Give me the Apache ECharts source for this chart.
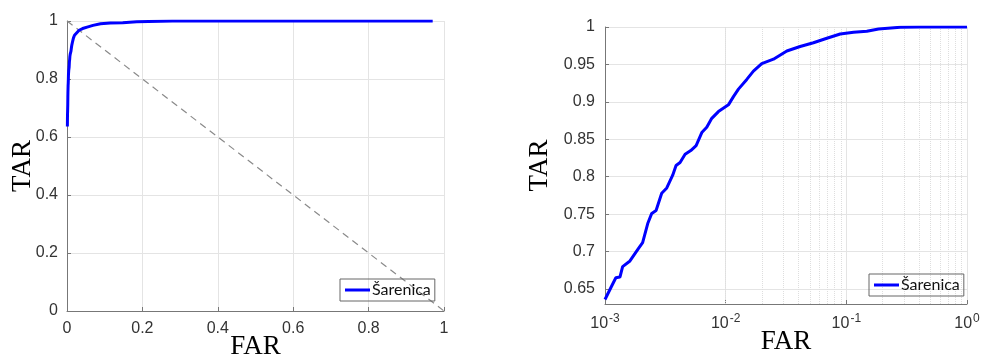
<!DOCTYPE html>
<html>
<head>
<meta charset="utf-8">
<script src="https://cdn.jsdelivr.net/npm/echarts@6/dist/echarts.min.js"></script>
<style>
html,body{margin:0;padding:0;background:#fff;}
#c{width:983px;height:359px;}
</style>
</head>
<body>
<div id="c"></div>
<script>
// ROC data (FAR, TAR)
const far = [0.001, 0.00112, 0.00123, 0.00133, 0.0014, 0.00161, 0.00189, 0.00205, 0.00226, 0.00244, 0.00265, 0.00295, 0.00325, 0.00364, 0.00388, 0.00419, 0.00461, 0.00514, 0.00569, 0.00634, 0.00697, 0.00767, 0.00871, 0.01054, 0.0116, 0.01276, 0.01496, 0.01698, 0.01991, 0.02489, 0.03213, 0.0414, 0.0534, 0.06897, 0.08894, 0.1148, 0.1479, 0.1849, 0.28, 0.41, 0.97, 1.0];
const tar = [0.636, 0.652, 0.665, 0.666, 0.680, 0.6875, 0.704, 0.712, 0.7375, 0.751, 0.755, 0.778, 0.785, 0.802, 0.815, 0.819, 0.830, 0.835, 0.8415, 0.859, 0.866, 0.878, 0.887, 0.896, 0.907, 0.917, 0.930, 0.941, 0.951, 0.957, 0.968, 0.974, 0.979, 0.985, 0.9906, 0.9929, 0.9942, 0.9973, 0.9996, 1.0, 1.0, 1.0];
const seriesName = 'Šarenica';
const leftFarMax = 0.97;
const chanceLine = [[0, 1], [1, 0]];
const logMinorTicks = [2,3,4,5,6,7,8,9].map(m => m * 0.001)
  .concat([2,3,4,5,6,7,8,9].map(m => m * 0.01))
  .concat([2,3,4,5,6,7,8,9].map(m => m * 0.1));
const rightYTicks = [0.65, 0.7, 0.75, 0.8, 0.85, 0.9, 0.95, 1];

const pts = far.map((f, i) => [f, tar[i]]);
const leftPts = pts.filter(p => p[0] <= leftFarMax);

const labelFont = {fontFamily: 'Liberation Sans', fontSize: 16, color: '#333'};
const nameFont = {fontFamily: 'Liberation Serif', fontSize: 27, color: '#000'};
const axisLineStyle = {lineStyle: {color: '#777', width: 1}};
const gridLine = {show: true, lineStyle: {color: '#e4e4e4', width: 1}};
const legendBase = {
  data: [seriesName], orient: 'vertical',
  borderColor: '#666', borderWidth: 1, borderRadius: 0, padding: [3, 4, 3, 5],
  itemWidth: 25, itemHeight: 16, itemGap: 0,
  textStyle: {fontFamily: 'Lato', fontSize: 16, color: '#111', padding: [0, 0, 0, -3]},
  icon: 'path://M0,6 L25,6 L25,9 L0,9 Z',
  itemStyle: {color: '#0000ff'}
};

const chart = echarts.init(document.getElementById('c'), null, {renderer: 'canvas'});
chart.setOption({
  animation: false,
  backgroundColor: '#fff',
  grid: [
    {left: 67, top: 21, width: 377, height: 290, outerBoundsMode: 'none', containLabel: false},
    {left: 605, top: 27, right: 16, bottom: 55, outerBoundsMode: 'none', containLabel: false}
  ],
  legend: [
    Object.assign({left: 340, top: 279}, legendBase),
    Object.assign({left: 869, top: 274}, legendBase)
  ],
  xAxis: [
    {
      type: 'value', gridIndex: 0, min: 0, max: 1, interval: 0.2,
      name: 'FAR', nameLocation: 'middle', nameGap: 22, nameMoveOverlap: false, nameTextStyle: nameFont,
      axisLine: axisLineStyle,
      axisTick: {show: true, inside: true, length: 4, lineStyle: {color: '#777'}},
      axisLabel: Object.assign({margin: 10}, labelFont),
      splitLine: gridLine
    },
    {
      type: 'log', logBase: 10, gridIndex: 1, min: 0.001, max: 1,
      name: 'FAR', nameLocation: 'middle', nameGap: 24, nameMoveOverlap: false, nameTextStyle: nameFont,
      axisLine: axisLineStyle,
      axisTick: {show: true, inside: true, length: 4, lineStyle: {color: '#777'}},
      axisLabel: {
        margin: 9,
        formatter: function (v) {
          const e = Math.round(Math.log10(v));
          return '{b|10}{s|' + e + '}';
        },
        rich: {
          b: {fontFamily: 'Liberation Sans', fontSize: 16, color: '#333'},
          s: {fontFamily: 'Liberation Sans', fontSize: 12, color: '#333', padding: [0, 0, 10, 1]}
        }
      },
      splitLine: gridLine
    }
  ],
  yAxis: [
    {
      type: 'value', gridIndex: 0, min: 0, max: 1, interval: 0.2,
      name: 'TAR', nameLocation: 'middle', nameGap: 31, nameMoveOverlap: false, nameTextStyle: nameFont,
      axisLine: axisLineStyle,
      axisTick: {show: true, inside: true, length: 4, lineStyle: {color: '#777'}},
      axisLabel: Object.assign({margin: 9}, labelFont),
      splitLine: gridLine
    },
    {
      type: 'value', gridIndex: 1, min: 0.63, max: 1, splitNumber: 7,
      name: 'TAR', nameLocation: 'middle', nameGap: 52, nameMoveOverlap: false, nameTextStyle: nameFont,
      axisLine: axisLineStyle,
      axisTick: {show: true, inside: true, length: 4, lineStyle: {color: '#777'}},
      axisLabel: Object.assign({margin: 10, showMinLabel: false,
        formatter: function (v) { return rightYTicks.some(t => Math.abs(t - v) < 1e-9) ? String(+v.toFixed(2)) : ''; }
      }, labelFont),
      splitLine: gridLine
    }
  ],
  series: [
    {
      name: 'chance', type: 'line', xAxisIndex: 0, yAxisIndex: 0,
      data: chanceLine, showSymbol: false, silent: true,
      lineStyle: {color: '#8a8a8a', width: 1.2, type: [7, 5]}, z: 2
    },
    {
      name: seriesName, type: 'line', xAxisIndex: 0, yAxisIndex: 0,
      data: leftPts, showSymbol: false, smooth: false,
      lineStyle: {color: '#0000ff', width: 3}, itemStyle: {color: '#0000ff'}, z: 3
    },
    {
      name: seriesName, type: 'line', xAxisIndex: 1, yAxisIndex: 1,
      data: pts, showSymbol: false, smooth: false,
      lineStyle: {color: '#0000ff', width: 3}, itemStyle: {color: '#0000ff'}, z: 3,
      markLine: {
        silent: true, symbol: ['none', 'none'], label: {show: false},
        lineStyle: {color: '#dedede', width: 1, type: 'dotted'},
        emphasis: {disabled: true},
        data: logMinorTicks.map(v => ({xAxis: v})),
        z: 1
      }
    }
  ]
});
</script>
</body>
</html>
